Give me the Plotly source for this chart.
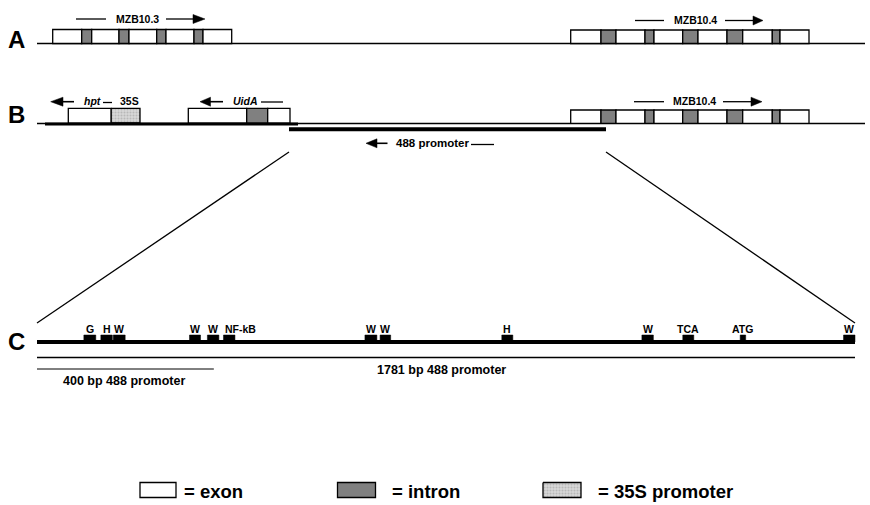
import plotly.graph_objects as go

# ---------------- data ----------------
# Rows A/B: segment boundaries along the schematic and segment types
mzb103_bounds = [52.7, 81.7, 91.7, 119.0, 129.0, 156.7, 166.0, 194.0, 203.0, 231.7]
mzb103_types = ["exon", "intron", "exon", "intron", "exon", "intron", "exon", "intron", "exon"]
mzb104_bounds = [570.7, 601.0, 616.0, 645.0, 654.0, 682.7, 698.0, 727.0, 742.7, 772.3, 780.0, 809.0]
mzb104_types = ["exon", "intron", "exon", "intron", "exon", "intron", "exon", "intron", "exon", "intron", "exon"]
hpt_bounds = [68.3, 111.0, 140.0]
hpt_types = ["exon", "35S"]
uida_bounds = [188.3, 246.7, 267.7, 290.0]
uida_types = ["exon", "intron", "exon"]
tdna_span = [45.0, 298.0]
promoter_span = [289.0, 606.0]

# Row C: promoter motifs (bp from the 5' end of the 1781 bp promoter)
promoter_length_bp = 1781
short_promoter_bp = 385
motif_labels = ["G", "H", "W", "W", "W", "NF-kB", "W", "W", "H", "W", "TCA", "ATG", "W"]
motif_start_bp = [102, 139, 166, 332, 371, 406, 714, 747, 1012, 1317, 1406, 1531, 1756]
motif_end_bp = [128, 164, 192, 356, 396, 431, 740, 770, 1036, 1342, 1430, 1543, 1781]

legend_labels = ["= exon", "= intron", "= 35S promoter"]

# ---------------- style ----------------
FONT = "Arial, Liberation Sans, sans-serif"
EXON = "white"
INTRON = "#808080"
S35 = "#d6d6d6"
LW = 1.3

fig = go.Figure()
shapes = []
annotations = []


def line(x0, y0, x1, y1, w=LW, xref="x"):
    shapes.append(dict(type="line", xref=xref, yref="y", x0=x0, y0=y0, x1=x1, y1=y1,
                       line=dict(color="black", width=w)))


def box(x0, x1, y0, y1, kind, xref="x"):
    if kind == "35S":
        fig.add_trace(go.Scatter(x=[x0, x1, x1, x0, x0], y=[y0, y0, y1, y1, y0],
                                 mode="lines", fill="toself", fillcolor=S35,
                                 fillpattern=dict(shape=".", fgcolor="#9a9a9a", bgcolor=S35,
                                                  size=3, solidity=0.35),
                                 line=dict(color="black", width=LW),
                                 hoverinfo="skip", showlegend=False))
        return
    shapes.append(dict(type="rect", xref=xref, yref="y", x0=x0, x1=x1, y0=y0, y1=y1,
                       fillcolor=EXON if kind == "exon" else (INTRON if kind == "intron" else kind),
                       line=dict(color="black", width=LW)))


def gene(bounds, types, y0, y1):
    for i, t in enumerate(types):
        box(bounds[i], bounds[i + 1], y0, y1, t)


def text(x, y, s, size, italic=False, xanchor="center", xref="x", weight="bold"):
    annotations.append(dict(x=x, y=y, xref=xref, yref="y", text=s, showarrow=False,
                            xanchor=xanchor, yanchor="middle",
                            font=dict(family=FONT, size=size, color="black", weight=weight,
                                      style="italic" if italic else "normal")))


def tri(tip_x, base_x, y, h=4.5):
    shapes.append(dict(type="path", xref="x", yref="y",
                       path=f"M{base_x},{y - h} L{tip_x},{y} L{base_x},{y + h} Z",
                       fillcolor="black", line=dict(color="black", width=0.5)))


# ---------------- row A ----------------
line(37, 43.5, 865, 43.5)
gene(mzb103_bounds, mzb103_types, 29.5, 43.5)
gene(mzb104_bounds, mzb104_types, 30.0, 43.5)
text(16.5, 39, "A", 24)
# MZB10.3 label and arrow
line(76, 19, 106, 19)
text(137, 18.5, "MZB10.3", 10.5)
line(166, 19, 194, 19)
tri(205, 193, 19)
# MZB10.4 label and arrow (row A)
line(635, 20.5, 664, 20.5)
text(695, 20, "MZB10.4", 10.5)
line(725, 20.5, 754, 20.5)
tri(763, 753, 20.5)

# ---------------- row B ----------------
line(37, 123.5, 865, 123.5)
line(tdna_span[0], 124, tdna_span[1], 124, w=3)
gene(hpt_bounds, hpt_types, 108.3, 123.0)
gene(uida_bounds, uida_types, 108.3, 123.0)
gene(mzb104_bounds, mzb104_types, 110.0, 123.3)
line(promoter_span[0], 129.3, promoter_span[1], 129.3, w=4)
text(16.5, 114, "B", 24)
# hpt / 35S labels
tri(50.7, 63, 101.7)
line(62, 101.7, 74, 101.7, w=1.6)
text(92, 101, "hpt", 10.5, italic=True)
line(103, 102.5, 112, 102.5)
text(129.5, 101, "35S", 10.5)
# UidA label
tri(200, 210.5, 101.7)
line(210, 101.7, 223, 101.7, w=1.6)
text(245, 101, "UidA", 10.5, italic=True)
line(261, 102, 283, 102)
# MZB10.4 label (row B)
line(634, 101.7, 664, 101.7)
text(694, 101, "MZB10.4", 10.5)
line(723, 101.7, 752, 101.7)
tri(762, 751, 101.7)
# 488 promoter label
tri(366, 377, 143.3)
line(376, 143.3, 387.5, 143.3, w=1.6)
text(432, 142.5, "488 promoter", 11.5)
line(471, 144.5, 494, 144.5)

# zoom lines
line(promoter_span[0], 152, 37, 323)
line(promoter_span[1], 152, 855, 323)

# ---------------- row C (bp axis x2) ----------------
text(16.5, 341, "C", 24)
line(0, 342, promoter_length_bp, 342, w=4, xref="x2")
for lab, s, e in zip(motif_labels, motif_start_bp, motif_end_bp):
    shapes.append(dict(type="rect", xref="x2", yref="y", x0=s, x1=e, y0=335, y1=342,
                       fillcolor="black", line=dict(color="black", width=0.5)))
    if lab == "NF-kB":
        text(s, 329, lab, 10.5, xanchor="left", xref="x2")
    else:
        text((s + e) / 2, 329, lab, 10.5, xref="x2")
line(0, 357.5, promoter_length_bp, 357.5, w=1.3, xref="x2")
line(0, 369, short_promoter_bp, 369, w=1, xref="x2")
text(promoter_length_bp * 0.495, 369.5, f"{promoter_length_bp} bp 488 promoter", 12.5, xref="x2")
text(short_promoter_bp * 0.49, 381, "400 bp 488 promoter", 12.5, xref="x2")

# ---------------- legend ----------------
legend_boxes = [(140, 176, "exon"), (337.5, 375.5, "intron"), (543, 581, "35S")]
legend_text_x = [182, 390, 596]
for (x0, x1, kind), tx, lab in zip(legend_boxes, legend_text_x, legend_labels):
    box(x0, x1, 482.5, 497.5, kind)
    text(tx, 491.5, lab, 18.5, xanchor="left")

# x2 range so that 0 bp sits at 37 px and 1781 bp at 855 px
px_per_bp = (855 - 37) / promoter_length_bp
x2_range = [-37 / px_per_bp, (870 - 37) / px_per_bp]

fig.update_layout(
    width=870, height=505,
    margin=dict(l=0, r=0, t=0, b=0),
    paper_bgcolor="white", plot_bgcolor="white",
    xaxis=dict(range=[0, 870], visible=False, domain=[0, 1], fixedrange=True),
    xaxis2=dict(range=x2_range, visible=False, overlaying="x", domain=[0, 1], fixedrange=True),
    yaxis=dict(range=[505, 0], visible=False, domain=[0, 1], fixedrange=True),
    shapes=shapes, annotations=annotations, showlegend=False,
)

fig.write_html("out.html", config={"displayModeBar": False},
               post_script="document.body.style.margin='0';document.body.style.overflow='hidden';")
